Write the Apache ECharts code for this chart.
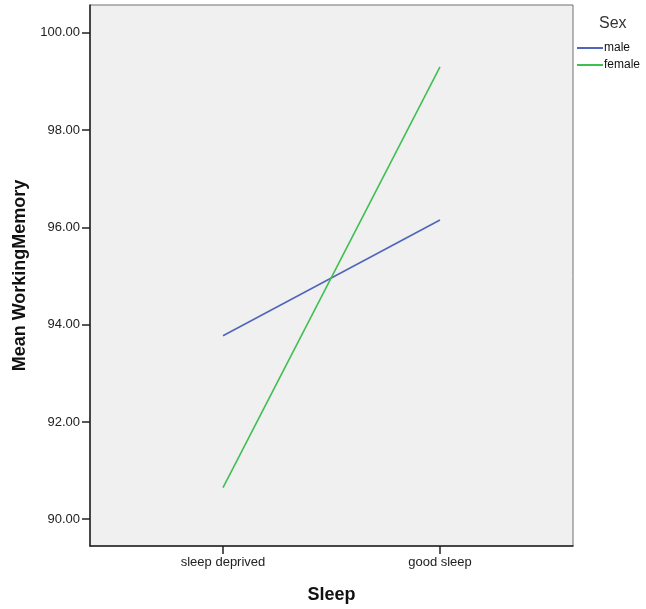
<!DOCTYPE html>
<html>
<head>
<meta charset="utf-8">
<script src="https://cdn.jsdelivr.net/npm/echarts@6/dist/echarts.min.js"></script>
<style>
html,body{margin:0;padding:0;background:#fff;}
#c{width:646px;height:609px;}
</style>
</head>
<body>
<div id="c"></div>
<script>
var categories = ['sleep deprived', 'good sleep'];
var maleValues = [93.77, 96.15];
var femaleValues = [90.65, 99.30];
var yTicks = [90, 92, 94, 96, 98, 100];
var seriesNames = ['male', 'female'];

function toPoints(vals) {
  return vals.map(function (v, i) { return [i, v]; });
}
var catIdx = categories.map(function (c, i) { return i; });

var chart = echarts.init(document.getElementById('c'));
var font = 'Liberation Sans, Arial, sans-serif';
chart.setOption({
  animation: false,
  backgroundColor: '#ffffff',
  title: {
    text: 'Sex', left: 594, top: 11,
    textStyle: { fontFamily: font, fontSize: 16, fontWeight: 'normal', color: '#333' }
  },
  legend: {
    orient: 'vertical', left: 572, top: 37,
    itemWidth: 26, itemHeight: 2, itemGap: 5,
    icon: 'rect',
    data: seriesNames,
    textStyle: { fontFamily: font, fontSize: 12, color: '#111', padding: [0, 0, 0, -4] }
  },
  grid: {
    left: 90, right: 73, top: 5, bottom: 62,
    show: true, backgroundColor: '#f0f0f0', borderColor: '#707070', borderWidth: 1
  },
  xAxis: {
    type: 'value', min: -0.613, max: 1.613,
    name: 'Sleep', nameLocation: 'middle', nameGap: 40,
    nameTextStyle: { fontFamily: font, fontSize: 18, fontWeight: 'bold', color: '#111' },
    axisLine: { show: true, onZero: false, lineStyle: { color: '#222', width: 1.5 } },
    axisTick: { show: true, length: 8, customValues: catIdx, lineStyle: { color: '#222', width: 1.5 } },
    axisLabel: {
      customValues: catIdx, margin: 10,
      fontFamily: font, fontSize: 13, color: '#222',
      formatter: function (v) { return categories[Math.round(v)]; }
    },
    splitLine: { show: false }
  },
  yAxis: {
    type: 'value', min: 89.45, max: 100.57,
    name: 'Mean WorkingMemory', nameLocation: 'middle', nameGap: 57,
    nameTextStyle: { fontFamily: font, fontSize: 18, fontWeight: 'bold', color: '#111' },
    axisLine: { show: true, onZero: false, lineStyle: { color: '#222', width: 1.5 } },
    axisTick: { show: true, length: 8, customValues: yTicks, lineStyle: { color: '#222', width: 1.5 } },
    axisLabel: {
      customValues: yTicks, margin: 10,
      fontFamily: font, fontSize: 13, color: '#222',
      formatter: function (v) { return v.toFixed(2); }
    },
    splitLine: { show: false }
  },
  series: [
    { name: seriesNames[0], type: 'line', data: toPoints(maleValues), symbol: 'none',
      lineStyle: { color: '#4f66bb', width: 1.6 }, itemStyle: { color: '#4f66bb' } },
    { name: seriesNames[1], type: 'line', data: toPoints(femaleValues), symbol: 'none',
      lineStyle: { color: '#3fbf52', width: 1.6 }, itemStyle: { color: '#3fbf52' } }
  ]
});
</script>
</body>
</html>
